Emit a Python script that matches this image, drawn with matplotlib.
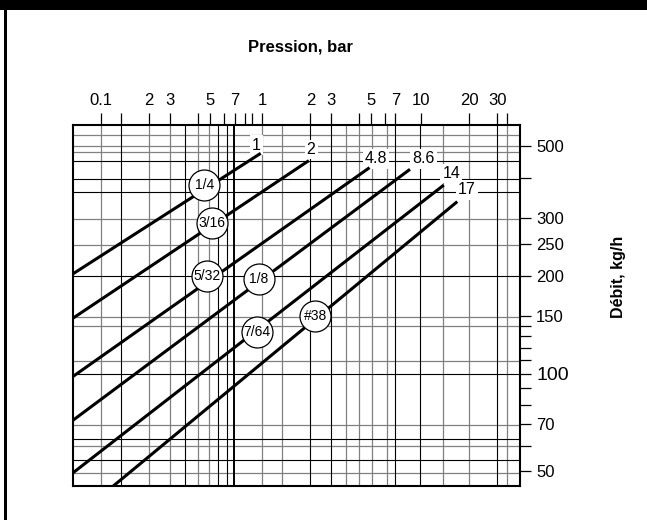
import matplotlib
matplotlib.use("Agg")
import matplotlib.pyplot as plt
from matplotlib.patches import Rectangle
from matplotlib.ticker import NullLocator

NARROW = ["Liberation Sans Narrow", "Liberation Sans", "DejaVu Sans"]
plt.rcParams["font.family"] = ["Liberation Sans", "DejaVu Sans"]

# flow lines: pressure (bar) -> flow (kg/h), straight on log-log paper
end_labels = ["1", "2", "4.8", "8.6", "14", "17"]
p_start = [0.0665, 0.0665, 0.0665, 0.0665, 0.0665, 0.1194]
q_start = [202.4, 147.8, 97.8, 71.7, 49.4, 45.07]
p_end = [1.0, 2.0, 4.8, 8.6, 14.0, 17.0]
q_end = [476, 452, 430, 425, 380, 338]

# orifice size tags
orifices = ["1/4", "3/16", "5/32", "1/8", "7/64", "#38"]
orifice_p = [0.443, 0.493, 0.459, 0.976, 0.944, 2.19]
orifice_q = [380, 291, 199.5, 195, 134.5, 150.4]

# printed grid of the original sheet (irregular)
x_grid_dark = [0.1335, 0.3357, 0.540, 0.615, 2.036, 2.756, 6.93, 9.94, 30.2]
x_grid_heavy = [0.681]
x_grid_light = [0.1, 0.2, 0.2705, 0.405, 0.474, 1.019, 1.36, 3.42, 4.13,
                4.98, 6.18, 13.85, 20.1, 34.9]
y_grid_dark = [450.7, 396.7, 361.8, 199.5, 100, 62.9, 54.2]
y_grid_light = [542, 500, 480, 298.8, 248.6, 149.2, 140, 109.3, 69.4, 59.8, 49.4]

top_ticks = [0.1, 0.1335, 0.2005, 0.2705, 0.4076, 0.484, 0.585, 0.686, 0.796,
             0.883, 1.019, 2.045, 2.756, 4.10, 4.93, 6.0, 6.96, 10.07, 20.2,
             30.3, 34.7]
top_labels = ["0.1", "", "2", "3", "", "5", "", "7", "", "", "1", "2", "3", "",
              "5", "", "7", "10", "20", "30", ""]
right_ticks = [500, 400, 300, 250, 200, 150, 140, 130, 120, 110, 100, 90, 80,
               70, 60, 50]
right_labels = ["500", "", "300", "250", "200", "150", "", "", "", "", "100",
                "", "", "70", "", "50"]

# label offsets from line ends, in pixels
label_offsets = [(-4.7, 8.3), (2.3, 10.7), (6.4, 8.7), (13.6, 10.3),
                 (7.6, 11.7), (9.4, 11.7)]

fig = plt.figure(figsize=(6.47, 5.2), dpi=100)
ax = fig.add_axes([72.7 / 647, 34 / 520, 446.8 / 647, 361 / 520])
ax.set_xscale("log")
ax.set_yscale("log")
ax.set_xlim(0.0665, 41.7)
ax.set_ylim(45.07, 581.7)

GRAY = "#808080"
for x in x_grid_light:
    ax.axvline(x, color=GRAY, lw=0.9, zorder=1)
for x in x_grid_dark:
    ax.axvline(x, color="black", lw=0.8, zorder=1.2)
for x in x_grid_heavy:
    ax.axvline(x, color="black", lw=1.4, zorder=1.2)
for y in y_grid_light:
    ax.axhline(y, color=GRAY, lw=0.9, zorder=1)
for y in y_grid_dark:
    ax.axhline(y, color="black", lw=0.8, zorder=1.2)

for i in range(len(p_end)):
    ax.plot([p_start[i], p_end[i]], [q_start[i], q_end[i]], color="black",
            lw=2.2, solid_capstyle="butt", zorder=3)
    ax.annotate(end_labels[i], (p_end[i], q_end[i]), xytext=label_offsets[i],
                textcoords="offset pixels", ha="center", va="center",
                fontsize=11.5, zorder=2.5,
                bbox=dict(fc="white", ec="none", pad=1.5))

ax.plot(orifice_p, orifice_q, "o", ms=22.3, mfc="white", mec="black",
        mew=0.9, zorder=4, clip_on=False)
for name, p, q in zip(orifices, orifice_p, orifice_q):
    ax.text(p, q, name, ha="center", va="center", fontsize=10,
            family=NARROW, zorder=5)

ax.xaxis.tick_top()
ax.yaxis.tick_right()
ax.set_xticks(top_ticks, top_labels)
ax.set_yticks(right_ticks, right_labels)
ax.xaxis.set_minor_locator(NullLocator())
ax.yaxis.set_minor_locator(NullLocator())
ax.tick_params(axis="x", length=9, width=0.9, pad=3.5, direction="out")
ax.tick_params(axis="y", length=8, width=0.9, pad=4, direction="out")
for lbl in ax.get_xticklabels() + ax.get_yticklabels():
    lbl.set_family(NARROW)
    lbl.set_fontsize(12)
for lbl in ax.get_yticklabels():
    if lbl.get_text() == "100":
        lbl.set_fontsize(14)
for s in ax.spines.values():
    s.set_linewidth(1.5)
    s.set_zorder(3.5)

fig.text(300 / 647, 1 - 47 / 520, "Pression, bar", ha="center", va="center",
         fontsize=12, fontweight="bold")
fig.text(619 / 647, 1 - 277 / 520, "Débit, kg/h", ha="center", va="center",
         rotation=90, fontsize=11.5, fontweight="bold")

# sheet frame: black band on top, rule on the left
fig.add_artist(Rectangle((0, 1 - 10 / 520), 1, 10 / 520,
                         transform=fig.transFigure, color="black", lw=0))
fig.add_artist(Rectangle((4 / 647, 0), 3 / 647, 1,
                         transform=fig.transFigure, color="black", lw=0))

fig.savefig("out.png", dpi=100)
